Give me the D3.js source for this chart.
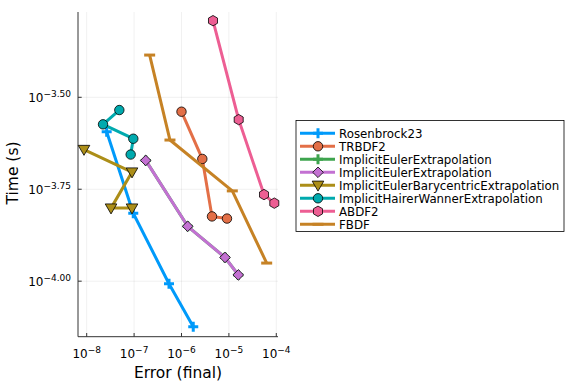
<!DOCTYPE html>
<html>
<head>
  <script src="https://d3js.org/d3.v7.min.js"></script>
  <style type="text/css">
    body { margin: 0; background: #ffffff; }
    svg { font-family: 'DejaVu Sans', sans-serif; }
  </style>
</head>
<body>
<div id="chart"></div>
<script>
  // series names, in draw order
  var names = ["Rosenbrock23", "TRBDF2", "ImplicitEulerExtrapolation", "ImplicitEulerExtrapolation",
               "ImplicitEulerBarycentricExtrapolation", "ImplicitHairerWannerExtrapolation", "ABDF2", "FBDF"];

  // final error (x) and time in seconds (y) for each series
  var rosenErr  = [2.64e-8, 9.6e-8, 5.45e-7, 1.77e-6];
  var rosenTime = [2.55e-4, 1.53e-4, 9.84e-5, 7.52e-5];
  var trErr  = [1.0e-6, 2.75e-6, 4.40e-6, 9.12e-6];
  var trTime = [2.89e-4, 2.15e-4, 1.50e-4, 1.48e-4];
  var ieErr  = [1.76e-7, 1.35e-6, 8.28e-6, 1.58e-5];
  var ieTime = [2.13e-4, 1.41e-4, 1.16e-4, 1.04e-4];
  var ie2Err  = [1.76e-7, 1.35e-6, 8.28e-6, 1.58e-5];
  var ie2Time = [2.13e-4, 1.41e-4, 1.16e-4, 1.04e-4];
  var baryErr  = [8.77e-9, 9.04e-8, 3.26e-8, 9.04e-8];
  var baryTime = [2.28e-4, 1.98e-4, 1.58e-4, 1.58e-4];
  var hwErr  = [4.88e-8, 2.21e-8, 9.62e-8, 8.47e-8];
  var hwTime = [2.92e-4, 2.67e-4, 2.44e-4, 2.21e-4];
  var abErr  = [4.62e-6, 1.61e-5, 5.51e-5, 9.08e-5];
  var abTime = [5.11e-4, 2.75e-4, 1.72e-4, 1.63e-4];
  var fbErr  = [2.13e-7, 5.71e-7, 1.18e-5, 6.27e-5];
  var fbTime = [4.12e-4, 2.42e-4, 1.76e-4, 1.12e-4];

  var xTickExp = [-8, -7, -6, -5, -4];
  var yTickExp = ["-3.50", "-3.75", "-4.00"];

  var errs = [rosenErr, trErr, ieErr, ie2Err, baryErr, hwErr, abErr, fbErr];
  var times = [rosenTime, trTime, ieTime, ie2Time, baryTime, hwTime, abTime, fbTime];
  var colors = ["#009afa", "#e36f47", "#3ea44e", "#c371d2", "#ac8e18", "#00aaae", "#ed5e93", "#c68225"];
  var shapes = ["cross", "circle", "cross", "diamond", "dtriangle", "circle", "hexagon", "hline"];

  var W = 576, H = 384;
  var svg = d3.select("#chart").append("svg").attr("width", W).attr("height", H);

  var x = d3.scaleLog().domain([Math.pow(10, -8.1835), Math.pow(10, -3.964)]).range([78, 278]);
  var y = d3.scaleLog().domain([Math.pow(10, -4.151), Math.pow(10, -3.268)]).range([336.7, 12]);

  // grid
  var grid = svg.append("g");
  xTickExp.forEach(function (e) {
    var px = x(Math.pow(10, e));
    grid.append("line").attr("x1", px).attr("x2", px).attr("y1", 12).attr("y2", 336.7)
      .attr("stroke", "#000").attr("stroke-opacity", 0.1).attr("stroke-width", 0.6);
  });
  yTickExp.forEach(function (e) {
    var py = y(Math.pow(10, +e));
    grid.append("line").attr("x1", 78).attr("x2", 278).attr("y1", py).attr("y2", py)
      .attr("stroke", "#000").attr("stroke-opacity", 0.1).attr("stroke-width", 0.6);
  });

  // axes
  var ax = svg.append("g");
  ax.append("line").attr("x1", 78).attr("x2", 78).attr("y1", 12).attr("y2", 336.7).attr("stroke", "#333").attr("stroke-width", 1);
  ax.append("line").attr("x1", 78).attr("x2", 278).attr("y1", 336.7).attr("y2", 336.7).attr("stroke", "#333").attr("stroke-width", 1);

  xTickExp.forEach(function (e) {
    var px = x(Math.pow(10, e));
    ax.append("line").attr("x1", px).attr("x2", px).attr("y1", 336.7).attr("y2", 333).attr("stroke", "#333").attr("stroke-width", 1);
    var t = ax.append("text").attr("x", px).attr("y", 358).attr("text-anchor", "middle")
      .attr("font-size", 12).attr("fill", "#000");
    t.append("tspan").text("10");
    t.append("tspan").attr("dy", -5.5).attr("font-size", 9).text("\u2212" + Math.abs(e));
  });
  yTickExp.forEach(function (e) {
    var py = y(Math.pow(10, +e));
    ax.append("line").attr("x1", 78).attr("x2", 81.7).attr("y1", py).attr("y2", py).attr("stroke", "#333").attr("stroke-width", 1);
    var t = ax.append("text").attr("x", 71).attr("y", py + 5).attr("text-anchor", "end")
      .attr("font-size", 12).attr("fill", "#000");
    t.append("tspan").text("10");
    t.append("tspan").attr("dy", -5.5).attr("font-size", 9).text(e.replace("-", "\u2212"));
  });

  svg.append("text").attr("x", 178).attr("y", 378).attr("text-anchor", "middle")
    .attr("font-size", 15.5).text("Error (final)");
  svg.append("text").attr("transform", "translate(18,173) rotate(-90)").attr("text-anchor", "middle")
    .attr("font-size", 15.5).text("Time (s)");

  function markerPath(shape) {
    if (shape == "circle") return d3.symbol().type(d3.symbolCircle).size(70)();
    if (shape == "diamond") return "M0,-5.3L5.3,0L0,5.3L-5.3,0Z";
    if (shape == "dtriangle") return "M-5.8,-4.2L5.8,-4.2L0,5.8Z";
    if (shape == "hexagon") {
      var p = [];
      for (var k = 0; k < 6; k++) {
        var a = Math.PI / 6 + k * Math.PI / 3;
        p.push([5.2 * Math.cos(a), 5.2 * Math.sin(a)]);
      }
      return "M" + p.join("L") + "Z";
    }
    if (shape == "cross") return "M-1.5,-5H1.5V-1.5H5V1.5H1.5V5H-1.5V1.5H-5V-1.5H-1.5Z";
    if (shape == "hline") return "M-5.5,-1.5H5.5V1.5H-5.5Z";
  }
  function outlined(shape) { return !(shape == "cross" || shape == "hline"); }

  var line = d3.line().x(function (d) { return x(d[0]); }).y(function (d) { return y(d[1]); });

  var plot = svg.append("g");
  errs.forEach(function (ex, i) {
    var pts = ex.map(function (v, j) { return [v, times[i][j]]; });
    var g = plot.append("g");
    g.append("path").attr("d", line(pts)).attr("fill", "none").attr("stroke", colors[i])
      .attr("stroke-width", 3).attr("stroke-linejoin", "round");
    g.selectAll("path.m").data(pts).enter().append("path").attr("class", "m")
      .attr("d", markerPath(shapes[i]))
      .attr("transform", function (d) { return "translate(" + x(d[0]) + "," + y(d[1]) + ")"; })
      .attr("fill", colors[i])
      .attr("stroke", outlined(shapes[i]) ? "#000" : "none").attr("stroke-width", 0.8);
  });

  // legend
  var lg = svg.append("g");
  lg.append("rect").attr("x", 296).attr("y", 120.5).attr("width", 268).attr("height", 111)
    .attr("fill", "#fff").attr("stroke", "#000").attr("stroke-width", 0.8);
  names.forEach(function (n, i) {
    var ly = 133.3 + i * 13;
    lg.append("line").attr("x1", 300).attr("x2", 335).attr("y1", ly).attr("y2", ly)
      .attr("stroke", colors[i]).attr("stroke-width", 3);
    lg.append("path").attr("d", markerPath(shapes[i])).attr("transform", "translate(318," + ly + ")")
      .attr("fill", colors[i]).attr("stroke", outlined(shapes[i]) ? "#000" : "none").attr("stroke-width", 0.8);
    lg.append("text").attr("x", 339).attr("y", ly + 4.2).attr("font-size", 11.8).text(n);
  });
</script>
</body>
</html>
